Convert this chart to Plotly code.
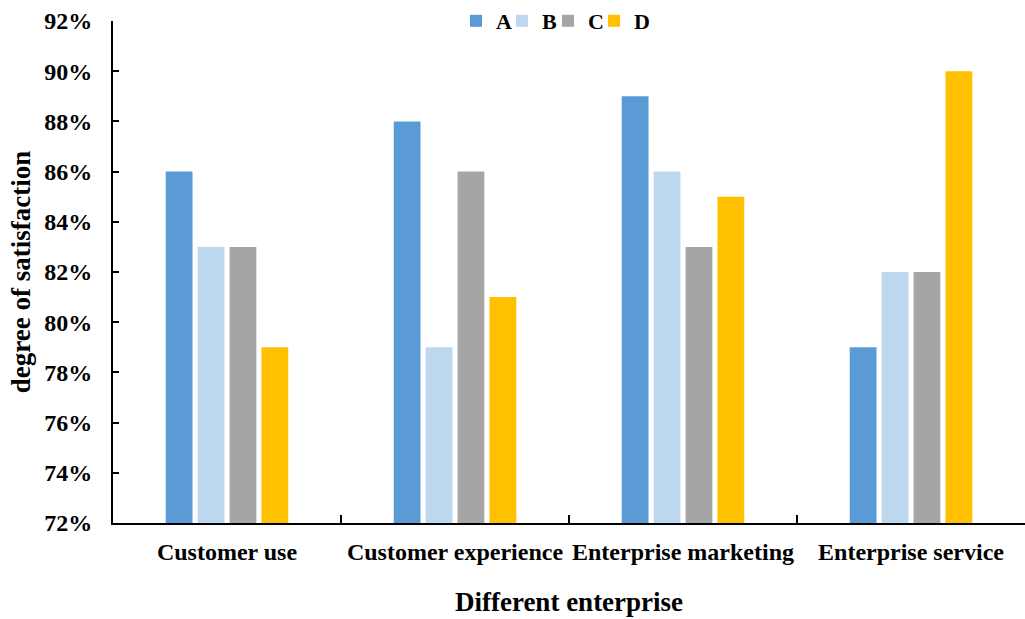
import plotly.graph_objects as go

categories = ["Customer use", "Customer experience", "Enterprise marketing", "Enterprise service"]
series_names = ["A", "B", "C", "D"]
values_A = [0.86, 0.88, 0.89, 0.79]
values_B = [0.83, 0.79, 0.86, 0.82]
values_C = [0.83, 0.86, 0.83, 0.82]
values_D = [0.79, 0.81, 0.85, 0.90]
colors = ["#5B9BD5", "#BDD7EE", "#A5A5A5", "#FFC000"]

font_family = "Liberation Serif, Times New Roman, serif"

fig = go.Figure()
for name, vals, col in zip(series_names, [values_A, values_B, values_C, values_D], colors):
    fig.add_trace(go.Bar(name=name, x=categories, y=vals, marker=dict(color=col, line=dict(width=0))))

# invisible spacer legend entry so the last legend label is not clipped
fig.add_trace(go.Scatter(x=[categories[0]], y=[None], mode="markers", name=" ",
                         marker=dict(color="rgba(0,0,0,0)", size=1), hoverinfo="skip"))

fig.update_layout(
    width=1025, height=619,
    margin=dict(l=113, r=0, t=20, b=96),
    paper_bgcolor="white", plot_bgcolor="white",
    barmode="group", bargap=0.44, bargroupgap=0.16,
    font=dict(family=font_family, size=20, color="black", weight="bold"),
    legend=dict(orientation="h", x=(456 - 113) / 912, xanchor="left", y=1.0, yanchor="middle",
                font=dict(size=22, family=font_family, weight="bold"),
                itemwidth=30, entrywidth=1, traceorder="normal",
                bgcolor="rgba(0,0,0,0)"),
    xaxis=dict(
        showline=True, linecolor="black", linewidth=2,
        ticks="inside", tickson="boundaries", ticklen=8, tickwidth=2, tickcolor="black",
        tickfont=dict(size=24, family=font_family, weight="bold"),
        tickangle=0, automargin=False,
        ticklabelstandoff=6,
        title=dict(text="Different enterprise", font=dict(size=27, family=font_family, weight="bold"), standoff=28),
        range=[-0.5, 3.5],
    ),
    yaxis=dict(
        range=[0.72, 0.92], dtick=0.02, tickformat=".0%",
        showline=True, linecolor="black", linewidth=2,
        ticks="inside", ticklen=6, tickwidth=1.5, tickcolor="black",
        showgrid=False, zeroline=False, automargin=False,
        tickfont=dict(size=24, family=font_family, weight="bold"),
        ticklabelstandoff=14,
        title=dict(text="degree of satisfaction", font=dict(size=27, family=font_family, weight="bold"), standoff=6),
    ),
)

fig.write_html("out.html")
